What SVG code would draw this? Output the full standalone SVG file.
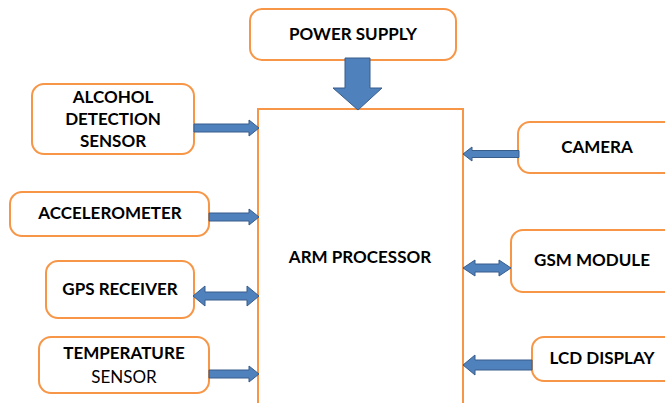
<svg xmlns="http://www.w3.org/2000/svg" width="665" height="403" viewBox="0 0 665 403">
<style>
.box{fill:#fff;stroke:#F79646;stroke-width:2}
.arr{fill:#4F81BD;stroke:#385D8A;stroke-width:1}
.t{font-family:Lato,"Liberation Sans",sans-serif;font-weight:bold;font-size:17px;fill:#000;text-anchor:middle}
.n{font-weight:normal}
</style>
<rect width="665" height="403" fill="#fff"/>
<g id="arm">
<path class="box" d="M258,404 V109 H463 V404" fill="none"/>
<text class="t" x="360" y="263">ARM PROCESSOR</text>
</g>
<g id="power">
<rect class="box" x="250" y="9" width="206" height="51" rx="12"/>
<text class="t" x="353" y="40">POWER SUPPLY</text>
</g>
<g id="alcohol">
<rect class="box" x="32" y="84" width="162" height="70" rx="12"/>
<text class="t" x="113" y="103">ALCOHOL</text>
<text class="t" x="113" y="125">DETECTION</text>
<text class="t" x="113" y="147">SENSOR</text>
</g>
<g id="accelerometer">
<rect class="box" x="10" y="192" width="199" height="44" rx="12"/>
<text class="t" x="110" y="219">ACCELEROMETER</text>
</g>
<g id="gps">
<rect class="box" x="46" y="261" width="148" height="57" rx="12"/>
<text class="t" x="120" y="295">GPS RECEIVER</text>
</g>
<g id="temperature">
<rect class="box" x="39" y="337" width="170" height="56" rx="12"/>
<text class="t" x="124" y="359">TEMPERATURE</text>
<text class="t n" x="124" y="383">SENSOR</text>
</g>
<g id="camera">
<rect class="box" x="518" y="122" width="160" height="51" rx="12"/>
<text class="t" x="597" y="153">CAMERA</text>
</g>
<g id="gsm">
<rect class="box" x="511" y="230" width="167" height="62" rx="12"/>
<text class="t" x="592" y="266">GSM MODULE</text>
</g>
<g id="lcd">
<rect class="box" x="532" y="337" width="146" height="44" rx="12"/>
<text class="t" x="602" y="364">LCD DISPLAY</text>
</g>
<g id="connectors">
<polygon class="arr" points="345,58 370,58 370,88 382,88 358,110 333,88 345,88"/>
<polygon class="arr" points="194,124 249,124 249,120 259,128 249,136 249,132 194,132"/>
<polygon class="arr" points="209,213 249,213 249,209 259,217 249,225 249,221 209,221"/>
<polygon class="arr" points="193,296 205,286 205,292 247,292 247,286 259,296 247,306 247,300 205,300 205,306"/>
<polygon class="arr" points="209,370 249,370 249,366 259,374 249,382 249,378 209,378"/>
<polygon class="arr" points="519,150.5 472,150.5 472,147 463,154 472,161 472,157.5 519,157.5"/>
<polygon class="arr" points="463,268 475,260 475,264 499,264 499,260 511,268 499,276 499,272 475,272 475,276"/>
<polygon class="arr" points="532,360 475,360 475,355 463,365 475,375 475,370 532,370"/>
</g>
</svg>
